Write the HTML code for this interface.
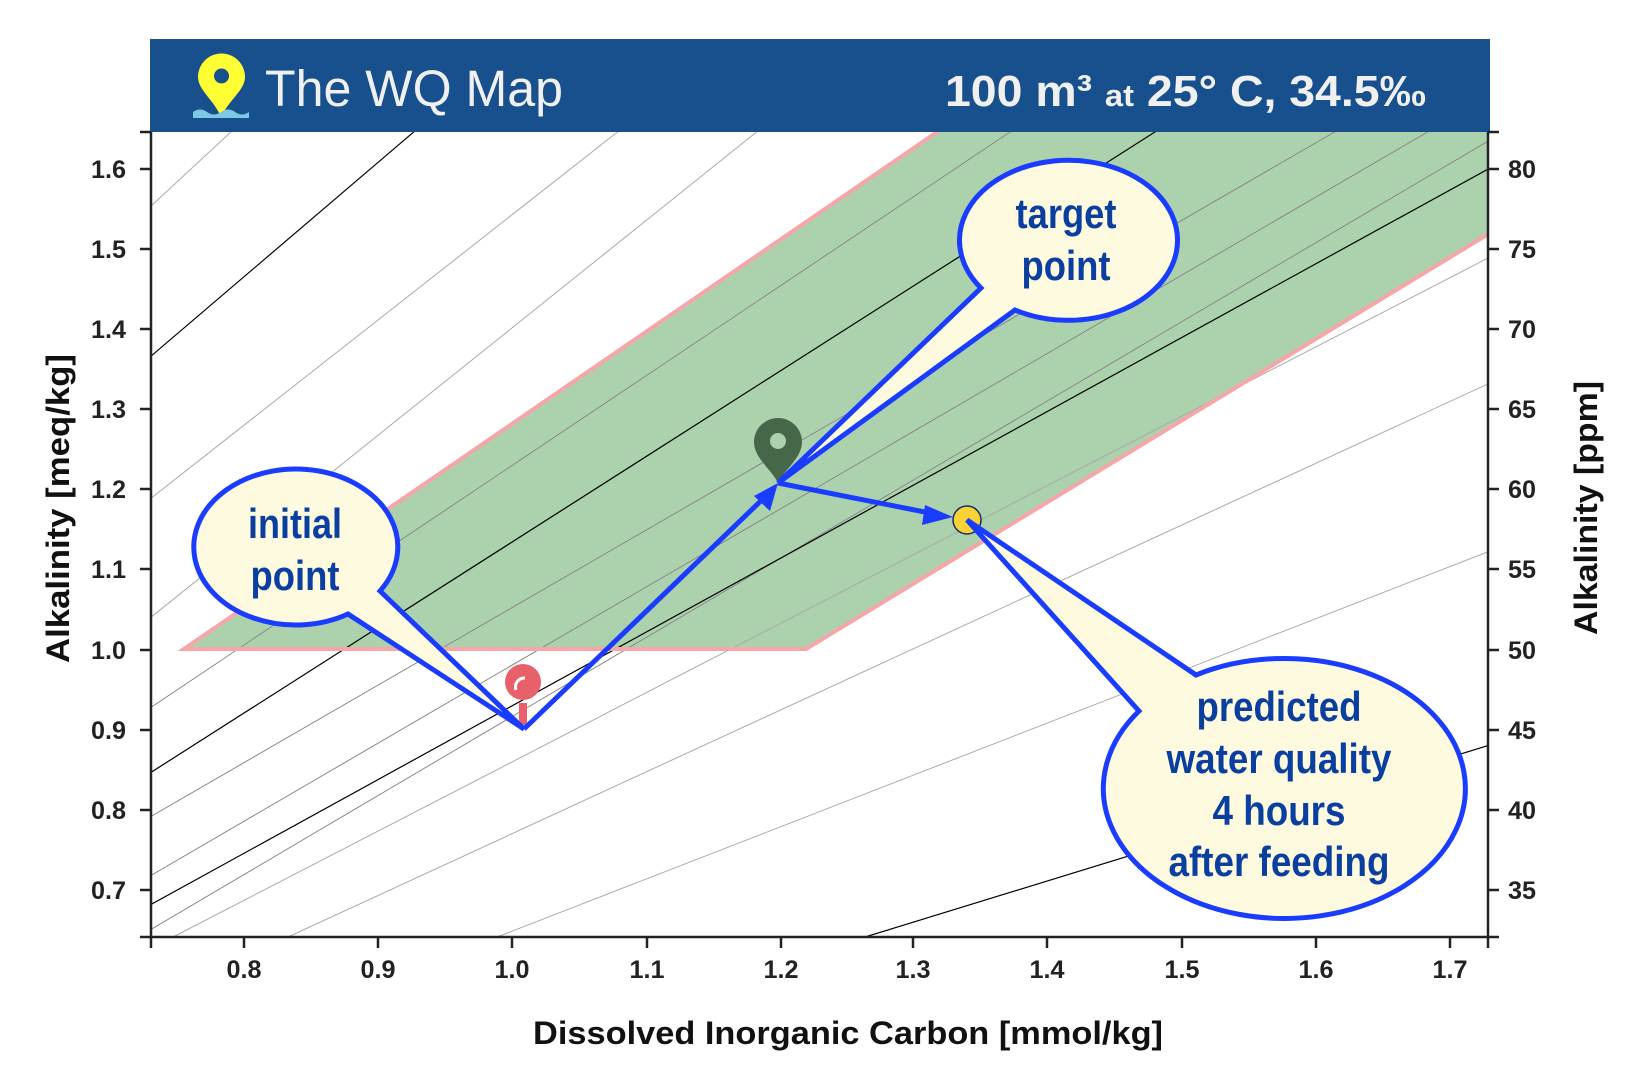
<!DOCTYPE html>
<html><head><meta charset="utf-8"><style>
html,body{margin:0;padding:0;background:#fff;}
svg{display:block;}
.tk{font-family:"Liberation Sans Narrow","Liberation Sans",sans-serif;font-weight:bold;font-size:25px;fill:#222;}
.co{font-family:"Liberation Sans Narrow","Liberation Sans",sans-serif;font-weight:bold;font-size:42px;fill:#0a3fa0;text-anchor:middle;}
</style></head><body>
<svg width="1638" height="1080" viewBox="0 0 1638 1080" xmlns="http://www.w3.org/2000/svg">
<defs><clipPath id="pc"><rect x="151" y="132" width="1336" height="805"/></clipPath></defs>
<g clip-path="url(#pc)">
<polygon points="184,649 940,130 1490,130 1490,233 806,649" fill="#acd1ad"/>
<g stroke="#aaa" stroke-width="1" fill="none">
<line x1="150" y1="207" x2="233" y2="130"/>
<line x1="150" y1="499" x2="620" y2="130"/>
<line x1="150" y1="618" x2="759" y2="130"/>
<line x1="150" y1="708" x2="1013" y2="130"/>
<line x1="150" y1="817" x2="1338" y2="130"/>
<line x1="150" y1="876" x2="1431" y2="130"/>
<line x1="150" y1="930" x2="1490" y2="140"/>
<line x1="173" y1="937" x2="1490" y2="257"/>
<line x1="288" y1="937" x2="1490" y2="383"/>
<line x1="497" y1="937" x2="1490" y2="551"/>
</g>
<g stroke="#555" stroke-width="0.6" fill="none" opacity="0.6">
<line x1="150" y1="708" x2="1013" y2="130"/>
<line x1="150" y1="817" x2="1338" y2="130"/>
<line x1="150" y1="876" x2="1431" y2="130"/>
<line x1="150" y1="930" x2="1490" y2="140"/>
</g>
<g stroke="#000" stroke-width="1.2" fill="none">
<line x1="150" y1="357" x2="416" y2="130"/>
<line x1="150" y1="773" x2="1158" y2="130"/>
<line x1="150" y1="905" x2="1490" y2="168"/>
<line x1="865" y1="937" x2="1490" y2="745"/>
</g>
<polyline points="940,130 184,649 806,649 1490,233" fill="none" stroke="#f6a5a8" stroke-width="4"/>
</g>
<!-- header -->
<rect x="150" y="39" width="1340" height="93" fill="#17508c"/>
<path d="M221,117 C214,100 198,90 198,77 A23,23 0 0 1 245,77 C245,90 229,100 221,117 Z" fill="#ffff33"/>
<circle cx="221.5" cy="76" r="7.5" fill="#17508c"/>
<path d="M193,112 q7,-5 14,0 t14,0 t14,0 t14,0 v6 h-56 z" fill="#7ec8e3"/>
<text x="265" y="106" font-family="Liberation Sans,sans-serif" font-size="51" fill="#f0f0f0" textLength="298" lengthAdjust="spacingAndGlyphs">The WQ Map</text>
<text x="945" y="106" font-family="Liberation Sans,sans-serif" font-weight="bold" font-size="44" fill="#f0f0f0" textLength="481" lengthAdjust="spacingAndGlyphs">100 m³ <tspan font-size="31">at</tspan> 25° C, 34.5‰</text>
<!-- axes -->
<g stroke="#222" stroke-width="2.5" fill="none">
<line x1="151" y1="132" x2="151" y2="948"/>
<line x1="1488" y1="132" x2="1488" y2="948"/>
<line x1="140" y1="937" x2="1499" y2="937"/>
<line x1="140" y1="132" x2="151" y2="132"/>
<line x1="1488" y1="132" x2="1499" y2="132"/>
<line x1="140" y1="169" x2="151" y2="169"/><line x1="140" y1="249" x2="151" y2="249"/><line x1="140" y1="329" x2="151" y2="329"/><line x1="140" y1="409" x2="151" y2="409"/><line x1="140" y1="489" x2="151" y2="489"/><line x1="140" y1="569" x2="151" y2="569"/><line x1="140" y1="650" x2="151" y2="650"/><line x1="140" y1="730" x2="151" y2="730"/><line x1="140" y1="810" x2="151" y2="810"/><line x1="140" y1="890" x2="151" y2="890"/>
<line x1="1488" y1="169" x2="1499" y2="169"/><line x1="1488" y1="249" x2="1499" y2="249"/><line x1="1488" y1="329" x2="1499" y2="329"/><line x1="1488" y1="409" x2="1499" y2="409"/><line x1="1488" y1="489" x2="1499" y2="489"/><line x1="1488" y1="569" x2="1499" y2="569"/><line x1="1488" y1="650" x2="1499" y2="650"/><line x1="1488" y1="730" x2="1499" y2="730"/><line x1="1488" y1="810" x2="1499" y2="810"/><line x1="1488" y1="890" x2="1499" y2="890"/>
<line x1="244" y1="937" x2="244" y2="948"/><line x1="378" y1="937" x2="378" y2="948"/><line x1="512" y1="937" x2="512" y2="948"/><line x1="647" y1="937" x2="647" y2="948"/><line x1="781" y1="937" x2="781" y2="948"/><line x1="913" y1="937" x2="913" y2="948"/><line x1="1047" y1="937" x2="1047" y2="948"/><line x1="1182" y1="937" x2="1182" y2="948"/><line x1="1316" y1="937" x2="1316" y2="948"/><line x1="1450" y1="937" x2="1450" y2="948"/>
</g>
<g class="tk" text-anchor="end">
<text x="126" y="178" textLength="35" lengthAdjust="spacingAndGlyphs">1.6</text><text x="126" y="258" textLength="35" lengthAdjust="spacingAndGlyphs">1.5</text><text x="126" y="338" textLength="35" lengthAdjust="spacingAndGlyphs">1.4</text><text x="126" y="418" textLength="35" lengthAdjust="spacingAndGlyphs">1.3</text><text x="126" y="498" textLength="35" lengthAdjust="spacingAndGlyphs">1.2</text><text x="126" y="578" textLength="35" lengthAdjust="spacingAndGlyphs">1.1</text><text x="126" y="659" textLength="35" lengthAdjust="spacingAndGlyphs">1.0</text><text x="126" y="739" textLength="35" lengthAdjust="spacingAndGlyphs">0.9</text><text x="126" y="819" textLength="35" lengthAdjust="spacingAndGlyphs">0.8</text><text x="126" y="899" textLength="35" lengthAdjust="spacingAndGlyphs">0.7</text>
</g>
<g class="tk">
<text x="1508" y="178" textLength="28" lengthAdjust="spacingAndGlyphs">80</text><text x="1508" y="258" textLength="28" lengthAdjust="spacingAndGlyphs">75</text><text x="1508" y="338" textLength="28" lengthAdjust="spacingAndGlyphs">70</text><text x="1508" y="418" textLength="28" lengthAdjust="spacingAndGlyphs">65</text><text x="1508" y="498" textLength="28" lengthAdjust="spacingAndGlyphs">60</text><text x="1508" y="578" textLength="28" lengthAdjust="spacingAndGlyphs">55</text><text x="1508" y="659" textLength="28" lengthAdjust="spacingAndGlyphs">50</text><text x="1508" y="739" textLength="28" lengthAdjust="spacingAndGlyphs">45</text><text x="1508" y="819" textLength="28" lengthAdjust="spacingAndGlyphs">40</text><text x="1508" y="899" textLength="28" lengthAdjust="spacingAndGlyphs">35</text>
</g>
<g class="tk" text-anchor="middle">
<text x="244" y="978" textLength="35" lengthAdjust="spacingAndGlyphs">0.8</text><text x="378" y="978" textLength="35" lengthAdjust="spacingAndGlyphs">0.9</text><text x="512" y="978" textLength="35" lengthAdjust="spacingAndGlyphs">1.0</text><text x="647" y="978" textLength="35" lengthAdjust="spacingAndGlyphs">1.1</text><text x="781" y="978" textLength="35" lengthAdjust="spacingAndGlyphs">1.2</text><text x="913" y="978" textLength="35" lengthAdjust="spacingAndGlyphs">1.3</text><text x="1047" y="978" textLength="35" lengthAdjust="spacingAndGlyphs">1.4</text><text x="1182" y="978" textLength="35" lengthAdjust="spacingAndGlyphs">1.5</text><text x="1316" y="978" textLength="35" lengthAdjust="spacingAndGlyphs">1.6</text><text x="1450" y="978" textLength="35" lengthAdjust="spacingAndGlyphs">1.7</text>
</g>
<text x="533" y="1044" font-family="Liberation Sans,sans-serif" font-weight="bold" font-size="32" fill="#111" textLength="630" lengthAdjust="spacingAndGlyphs">Dissolved Inorganic Carbon [mmol/kg]</text>
<text transform="translate(69,663) rotate(-90)" font-family="Liberation Sans,sans-serif" font-weight="bold" font-size="32" fill="#111" textLength="309" lengthAdjust="spacingAndGlyphs">Alkalinity [meq/kg]</text>
<text transform="translate(1597,635) rotate(-90)" font-family="Liberation Sans,sans-serif" font-weight="bold" font-size="32" fill="#111" textLength="254" lengthAdjust="spacingAndGlyphs">Alkalinity [ppm]</text>
<!-- markers -->
<rect x="519" y="703" width="8" height="22" fill="#e8606a"/>
<circle cx="523" cy="682" r="18" fill="#e8606a"/>
<path d="M516,690 a9,9 0 0 1 9,-12" stroke="#fff" stroke-width="3" fill="none"/>
<path d="M778,483 C772,470 754,458 754,442 A24,24 0 0 1 802,442 C802,458 784,470 778,483 Z" fill="#46674a"/>
<circle cx="778" cy="441" r="8" fill="#acd1ad"/>
<!-- arrows -->
<g stroke="#1a3cff" stroke-width="5" fill="none" stroke-linejoin="round">
<line x1="524" y1="729" x2="768" y2="494"/>
<line x1="778" y1="483" x2="935" y2="514"/>
</g>
<polygon points="778,483 754,496 770,511" fill="#1a3cff"/>
<polygon points="953,517 925,505 922,525" fill="#1a3cff"/>
<circle cx="967" cy="520" r="14" fill="#f9d236" stroke="#1a2a6a" stroke-width="1.5"/>
<!-- callouts -->
<g fill="#fefadf" stroke="#1a3cff" stroke-width="5" stroke-linejoin="miter">
<path d="M380,591 L524,729 L348,614 A102,78 0 1 1 380,591 Z"/>
<path d="M981,288 L778,483 L1015,310 A109,80 0 1 0 981,288 Z"/>
<path d="M1139,711 L967,520 L1196,675 A181,130 0 1 1 1139,711 Z"/>
</g>
<g class="co">
<text x="295" y="538" textLength="94" lengthAdjust="spacingAndGlyphs">initial</text><text x="295" y="590" textLength="89" lengthAdjust="spacingAndGlyphs">point</text>
<text x="1066" y="228" textLength="101" lengthAdjust="spacingAndGlyphs">target</text><text x="1066" y="280" textLength="89" lengthAdjust="spacingAndGlyphs">point</text>
<text x="1279" y="721" textLength="165" lengthAdjust="spacingAndGlyphs">predicted</text><text x="1279" y="773" textLength="225" lengthAdjust="spacingAndGlyphs">water quality</text><text x="1279" y="825" textLength="133" lengthAdjust="spacingAndGlyphs">4 hours</text><text x="1279" y="876" textLength="221" lengthAdjust="spacingAndGlyphs">after feeding</text>
</g>
</svg>
</body></html>
